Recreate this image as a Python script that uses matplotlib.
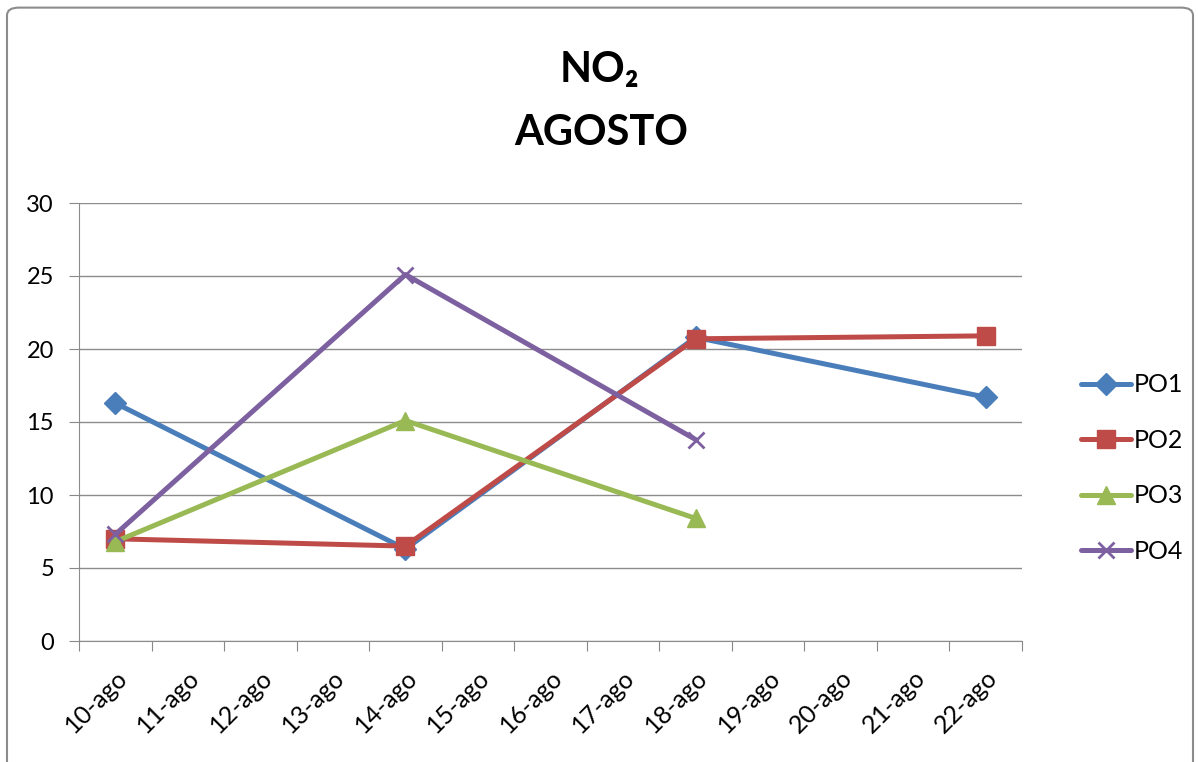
import matplotlib.pyplot as plt
from matplotlib.patches import FancyBboxPatch
import numpy as np

plt.rcParams['font.family'] = ['Lato', 'DejaVu Sans']

dias = ["10-ago", "11-ago", "12-ago", "13-ago", "14-ago", "15-ago", "16-ago",
        "17-ago", "18-ago", "19-ago", "20-ago", "21-ago", "22-ago"]

# índices dos dias com medição
idx_po1 = [0, 4, 8, 12]
po1 = [16.3, 6.3, 20.8, 16.7]
idx_po2 = [0, 4, 8, 12]
po2 = [7.0, 6.5, 20.7, 20.9]
idx_po3 = [0, 4, 8]
po3 = [6.8, 15.1, 8.4]
idx_po4 = [0, 4, 8]
po4 = [7.3, 25.1, 13.8]

series = [
    ("PO1", idx_po1, po1, "#4A7EBB", "D", 11),
    ("PO2", idx_po2, po2, "#BE4B48", "s", 13),
    ("PO3", idx_po3, po3, "#98B954", "^", 13),
    ("PO4", idx_po4, po4, "#7D60A0", "x", 12),
]

fig = plt.figure(figsize=(11.98, 7.62), dpi=100)
ax = fig.add_axes([79 / 1198, 1 - 641 / 762, (1022 - 79) / 1198, (641 - 203) / 762])

for nome, idx, vals, cor, mk, ms in series:
    x = np.array(idx) + 0.5
    ax.plot(x, vals, color=cor, lw=3.6, marker=mk, markersize=ms,
            markeredgewidth=2 if mk == "x" else 1, markeredgecolor=cor,
            label=nome, solid_capstyle="round")

ax.set_xlim(0, len(dias))
ax.set_ylim(0, 30)
ax.set_yticks(range(0, 31, 5))
ax.set_xticks(np.arange(len(dias) + 1))
ax.set_xticklabels([])
ax.set_xticks(np.arange(len(dias)) + 0.5, minor=True)
ax.set_xticklabels(dias, minor=True, rotation=45, ha="right", va="top",
                   rotation_mode="anchor", fontsize=18)
ax.tick_params(axis="x", which="minor", length=0, pad=18)
ax.tick_params(axis="x", which="major", length=7, color="#888888")
ax.tick_params(axis="y", length=7, color="#888888", labelsize=17, pad=11)

ax.grid(axis="y", color="#8c8c8c", lw=1)
ax.set_axisbelow(True)
for s in ["top", "right"]:
    ax.spines[s].set_visible(False)
for s in ["left", "bottom"]:
    ax.spines[s].set_color("#8c8c8c")

fig.legend(loc="center left", bbox_to_anchor=(1058 / 1198, 1 - 468 / 762),
           frameon=False, fontsize=18, handlelength=2.0, handletextpad=0.15,
           labelspacing=1.3)

fig.text(0.5, 1 - 70 / 762, "NO₂", ha="center", va="center",
         fontsize=30, fontweight="bold")
fig.text(0.502, 1 - 133 / 762, "AGOSTO", ha="center", va="center",
         fontsize=30, fontweight="bold")

borda = FancyBboxPatch((7 / 1198, -0.05), 1186 / 1198, 1.04,
                       boxstyle="round,pad=0,rounding_size=0.01",
                       transform=fig.transFigure, fill=False,
                       edgecolor="#8c8c8c", lw=1.5)
fig.add_artist(borda)

fig.savefig("out.png", dpi=100)
plt.close(fig)
